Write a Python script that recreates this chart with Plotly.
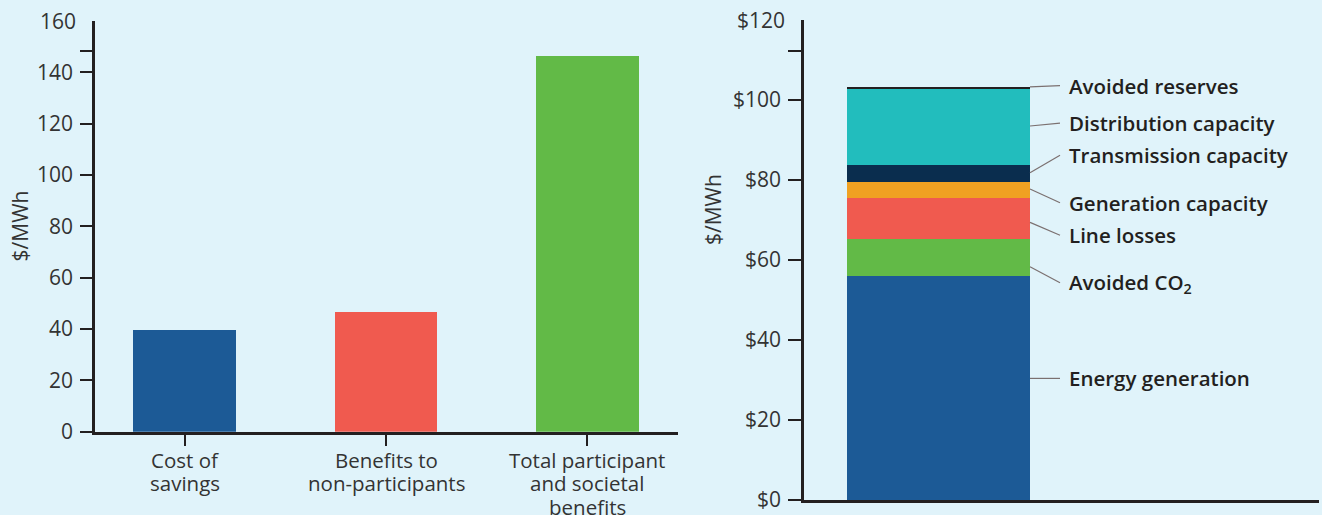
import plotly.graph_objects as go

W, H = 1322, 515
BG = "#e0f3fa"
INK = "#231f20"
FONT = "Open Sans"

# Left panel: cost of savings versus benefits ($/MWh)
categories = [["Cost of", "savings"],
              ["Benefits to", "non-participants"],
              ["Total participant", "and societal", "benefits"]]
values = [39.6, 46.6, 146.4]
bar_colors = ["#1c5a96", "#f05a4f", "#62ba47"]
left_tickvals = [0, 20, 40, 60, 80, 100, 120, 140]
left_ticktext = ["0", "20", "40", "60", "80", "100", "120", "140"]

# Right panel: components of avoided cost ($/MWh), bottom to top
components = ["Energy generation", "Avoided CO<sub>2</sub>", "Line losses",
              "Generation capacity", "Transmission capacity",
              "Distribution capacity", "Avoided reserves"]
component_values = [56.0, 9.25, 10.25, 4.0, 4.25, 19.0, 0.5]
component_colors = ["#1c5a96", "#62ba47", "#f05a4f", "#f0a122",
                    "#0a2d4e", "#22bdbd", "#231f20"]
right_tickvals = [0, 20, 40, 60, 80, 100]
right_ticktext = ["$0", "$20", "$40", "$60", "$80", "$100"]

# Callout placement for the stacked bar (leader start inside each band, label height)
anchor_y = [30.4, 58.3, 69.4, 77.75, 81.8, 93.5, 103.3]
label_y = [30.4, 54.3, 66.2, 74.3, 86.2, 94.2, 103.6]

fig = go.Figure()

fig.add_trace(go.Bar(
    x=[0, 1, 2], y=values, marker=dict(color=bar_colors, line=dict(width=0)),
    width=0.511, xaxis="x", yaxis="y", showlegend=False, hoverinfo="skip"))

for name, val, col in zip(components, component_values, component_colors):
    fig.add_trace(go.Bar(
        x=[0], y=[val], name=name, marker=dict(color=col, line=dict(width=0)),
        width=1.0, xaxis="x2", yaxis="y2", showlegend=False, hoverinfo="skip"))

tick_font = dict(family=FONT, size=21, color="#333333")
cat_font = dict(family=FONT, size=20.5, color="#333333")
axis_common = dict(showline=True, linecolor=INK, linewidth=2.5, automargin=False,
                   showgrid=False, zeroline=False, fixedrange=True)

fig.update_layout(
    width=W, height=H,
    margin=dict(l=0, r=0, t=0, b=0, autoexpand=False),
    paper_bgcolor=BG, plot_bgcolor=BG,
    barmode="stack",
    font=dict(family=FONT, color=INK),
    xaxis=dict(domain=[95 / W, 678 / W], range=[-0.445, 2.45],
               tickvals=[0, 1, 2], showticklabels=False,
               ticks="outside", ticklen=12, tickwidth=1.5, tickcolor=INK,
               **axis_common),
    yaxis=dict(domain=[(H - 431.7) / H, (H - 21.1) / H], range=[0, 160],
               tickvals=left_tickvals, ticktext=left_ticktext,
               ticks="outside", ticklen=12, tickwidth=1.5, tickcolor=INK,
               minor=dict(tickvals=[148.5], ticks="outside", ticklen=12,
                          tickwidth=1.5, tickcolor=INK, showgrid=False),
               tickfont=tick_font, ticklabelstandoff=3, **axis_common),
    xaxis2=dict(domain=[804 / W, 1318.7 / W], range=[-0.733, 2.075],
                showticklabels=False, ticks="", anchor="y2", **axis_common),
    yaxis2=dict(domain=[(H - 500) / H, (H - 20) / H], range=[0, 120],
                tickvals=right_tickvals, ticktext=right_ticktext,
                ticks="outside", ticklen=13, tickwidth=1.5, tickcolor=INK,
                minor=dict(tickvals=[112.3], ticks="outside", ticklen=13,
                           tickwidth=1.5, tickcolor=INK, showgrid=False),
                tickfont=tick_font, ticklabelstandoff=3, anchor="x2",
                **axis_common),
)

annotations = [
    # Top labels on each value axis (no tick mark at the top)
    dict(text="160", x=0, xref="x domain", y=160, yref="y", xanchor="right",
         yanchor="middle", xshift=-17, showarrow=False, font=tick_font),
    dict(text="$120", x=0, xref="x2 domain", y=120, yref="y2", xanchor="right",
         yanchor="middle", xshift=-17, showarrow=False, font=tick_font),
    # Axis titles
    dict(text="$/MWh", x=20 / W, xref="paper", y=80, yref="y",
         xanchor="center", yanchor="middle",
         textangle=-90, showarrow=False, font=tick_font),
    dict(text="$/MWh", x=713 / W, xref="paper", y=72.5, yref="y2",
         xanchor="center", yanchor="middle",
         textangle=-90, showarrow=False, font=tick_font),
]

# Category labels under the left panel, one annotation per line for tight leading
for i, lines in enumerate(categories):
    for k, line in enumerate(lines):
        annotations.append(dict(
            text=line, x=i, xref="x", y=0, yref="y",
            xanchor="center", yanchor="middle", yshift=-(28 + 23.5 * k),
            showarrow=False, font=cat_font))

bar_right = 0.5
line_end = bar_right + 30 / 183.3
text_x = bar_right + 37 / 183.3
for name, ay, ly in zip(components, anchor_y, label_y):
    fig.add_shape(type="line", xref="x2", yref="y2",
                  x0=bar_right, y0=ay, x1=line_end, y1=ly,
                  line=dict(color="#7b7070", width=1.2))
    annotations.append(dict(
        text=name, x=text_x, xref="x2", y=ly, yref="y2",
        xanchor="left", yanchor="middle", showarrow=False,
        font=dict(family=FONT, size=20.5, color=INK, weight=600)))

fig.update_layout(annotations=annotations)

fig.write_html("out.html")
